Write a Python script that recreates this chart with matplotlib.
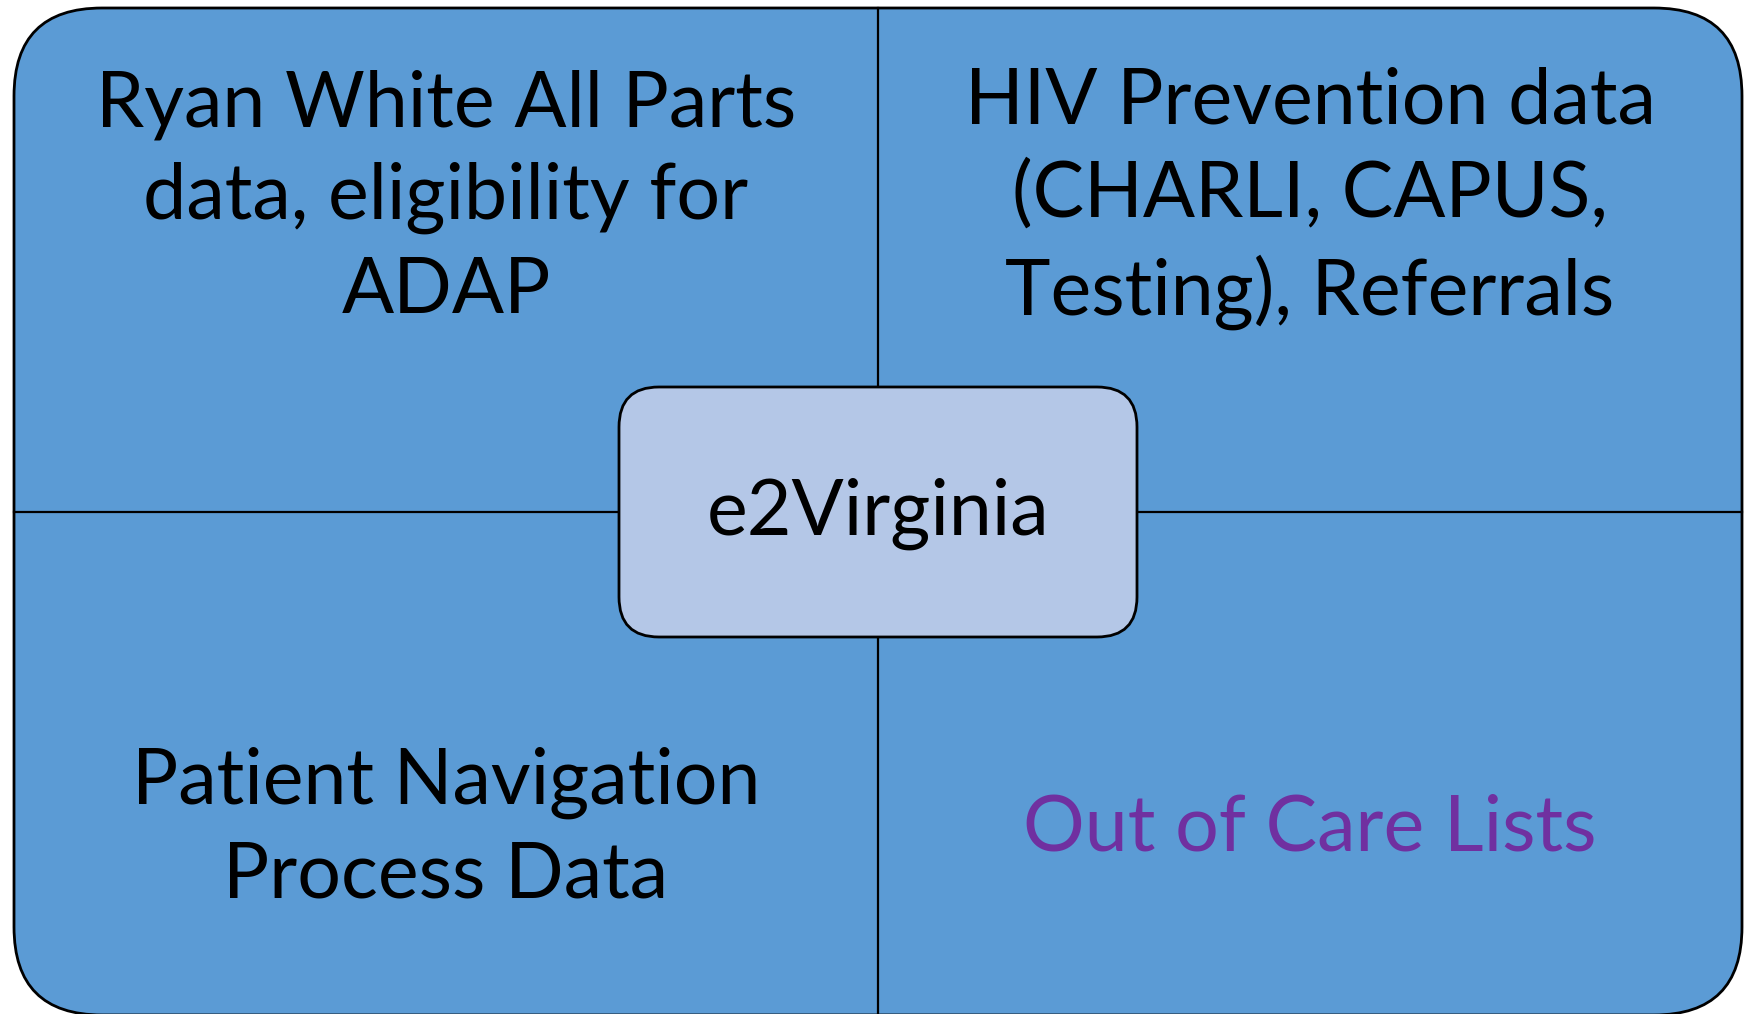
import matplotlib
matplotlib.use('Agg')
import matplotlib.pyplot as plt
from matplotlib.patches import FancyBboxPatch

# Textos dos quadrantes
quadrantes = [
    'Ryan White All Parts\ndata, eligibility for\nADAP',
    'HIV Prevention data\n(CHARLI, CAPUS,\nTesting), Referrals',
    'Patient Navigation\nProcess Data',
    'Out of Care Lists',
]
cores_texto = ['black', 'black', 'black', '#7030A0']
centro = 'e2Virginia'

W, H = 1747, 1014
fig = plt.figure(figsize=(W / 100, H / 100), dpi=100)
ax = fig.add_axes([0, 0, 1, 1])
ax.set_xlim(0, W)
ax.set_ylim(H, 0)
ax.set_aspect('equal')
ax.axis('off')

# Caixa externa
x0, y0, x1, y1 = 14, 8, 1742, 1015
r = 88
ax.add_patch(FancyBboxPatch((x0 + r, y0 + r), x1 - x0 - 2 * r, y1 - y0 - 2 * r,
                            boxstyle=f'round,pad={r}', fc='#5B9BD5', ec='black', lw=2))

xm, ym = 878, 512
ax.plot([xm, xm], [y0, y1], color='black', lw=1.6)
ax.plot([x0, x1], [ym, ym], color='black', lw=1.6)

# Caixa central
cx0, cy0, cx1, cy1 = 619, 387, 1137, 637
rc = 40
ax.add_patch(FancyBboxPatch((cx0 + rc, cy0 + rc), cx1 - cx0 - 2 * rc, cy1 - cy0 - 2 * rc,
                            boxstyle=f'round,pad={rc}', fc='#B4C7E7', ec='black', lw=2, zorder=3))

fonte = 'Lato'
pos = [((x0 + xm) / 2, 198), ((xm + x1) / 2, 198),
       ((x0 + xm) / 2, 829), ((xm + x1) / 2, 829)]
for texto, cor, (px, py) in zip(quadrantes, cores_texto, pos):
    ax.text(px, py, texto, ha='center', va='center', fontsize=55.5, color=cor,
            family=fonte, linespacing=1.38)

ax.text(xm, ym + 2, centro, ha='center', va='center', fontsize=55.5, color='black',
        family=fonte, zorder=4)

fig.savefig('out.png', dpi=100)
